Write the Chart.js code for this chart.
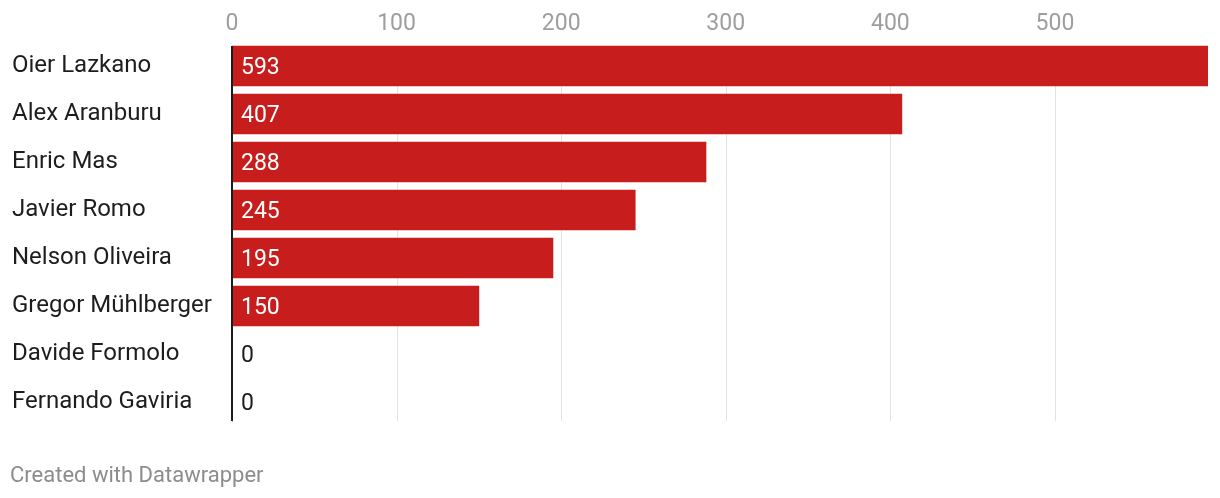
<!DOCTYPE html>
<html>
<head>
<meta charset="utf-8">
<script src="https://cdn.jsdelivr.net/npm/chart.js@4/dist/chart.umd.min.js"></script>
<style>
  html, body { margin: 0; padding: 0; background: #fff; }
  #wrap { position: relative; width: 1220px; height: 498px; }
  #footer {
    position: absolute; left: 10px; top: 462px;
    font-family: Roboto, sans-serif; font-size: 22px; color: #8c8c8c;
  }
</style>
</head>
<body>
<div id="wrap">
  <canvas id="chart" width="1220" height="498"></canvas>
  <div id="footer">Created with Datawrapper</div>
</div>
<script>
var riders = ["Oier Lazkano", "Alex Aranburu", "Enric Mas", "Javier Romo", "Nelson Oliveira", "Gregor Mühlberger", "Davide Formolo", "Fernando Gaviria"];
var points = [593, 407, 288, 245, 195, 150, 0, 0];
var xTicks = [0, 100, 200, 300, 400, 500];

var FONT = "Roboto, sans-serif";

// grid lines + axis line, limited to the bar rows
var gridPlugin = {
    id: "gridPlugin",
    beforeDatasetsDraw: function (chart) {
        var ctx = chart.ctx, x = chart.scales.x, a = chart.chartArea;
        ctx.save();
        ctx.strokeStyle = "#e3e3e3";
        ctx.lineWidth = 1;
        xTicks.forEach(function (v) {
            if (v === 0) return;
            var px = Math.round(x.getPixelForValue(v)) + 0.5;
            ctx.beginPath();
            ctx.moveTo(px, a.top + 4);
            ctx.lineTo(px, a.bottom - 5);
            ctx.stroke();
        });
        ctx.restore();
    },
    afterDatasetsDraw: function (chart) {
        var ctx = chart.ctx, x = chart.scales.x, a = chart.chartArea;
        ctx.save();
        ctx.strokeStyle = "#1d1d1d";
        ctx.lineWidth = 2;
        var px = Math.round(x.getPixelForValue(0));
        ctx.beginPath();
        ctx.moveTo(px, a.top + 4);
        ctx.lineTo(px, a.bottom - 5);
        ctx.stroke();

        // value labels
        ctx.font = "23px " + FONT;
        ctx.textBaseline = "middle";
        ctx.textAlign = "left";
        var meta = chart.getDatasetMeta(0);
        meta.data.forEach(function (bar, i) {
            var v = points[i];
            ctx.fillStyle = v > 0 ? "#ffffff" : "#1d1d1d";
            ctx.fillText(String(v), bar.base + 9, bar.y + 2);
        });
        ctx.restore();
    }
};

new Chart(document.getElementById("chart").getContext("2d"), {
    type: "bar",
    data: {
        labels: riders,
        datasets: [{
            data: points,
            backgroundColor: "#c71e1d",
            borderWidth: 0,
            barThickness: 40
        }]
    },
    options: {
        indexAxis: "y",
        responsive: false,
        animation: false,
        layout: { padding: { left: 12, right: 12, top: 0, bottom: 72 } },
        plugins: {
            legend: { display: false },
            tooltip: { enabled: false }
        },
        scales: {
            x: {
                position: "top",
                min: 0,
                max: 593,
                grid: { display: false, drawTicks: false },
                border: { display: false },
                afterBuildTicks: function (scale) {
                    scale.ticks = xTicks.map(function (v) { return { value: v }; });
                },
                afterFit: function (scale) { scale.height = 42; },
                ticks: {
                    color: "#9e9e9e",
                    font: { family: FONT, size: 23 },
                    padding: 4,
                    maxRotation: 0,
                    autoSkip: false
                }
            },
            y: {
                grid: { display: false, drawTicks: false },
                border: { display: false },
                afterFit: function (scale) { scale.width = 220; },
                ticks: {
                    crossAlign: "far",
                    color: "#1d1d1d",
                    font: { family: FONT, size: 24 },
                    padding: 0
                }
            }
        }
    },
    plugins: [gridPlugin]
});
</script>
</body>
</html>
